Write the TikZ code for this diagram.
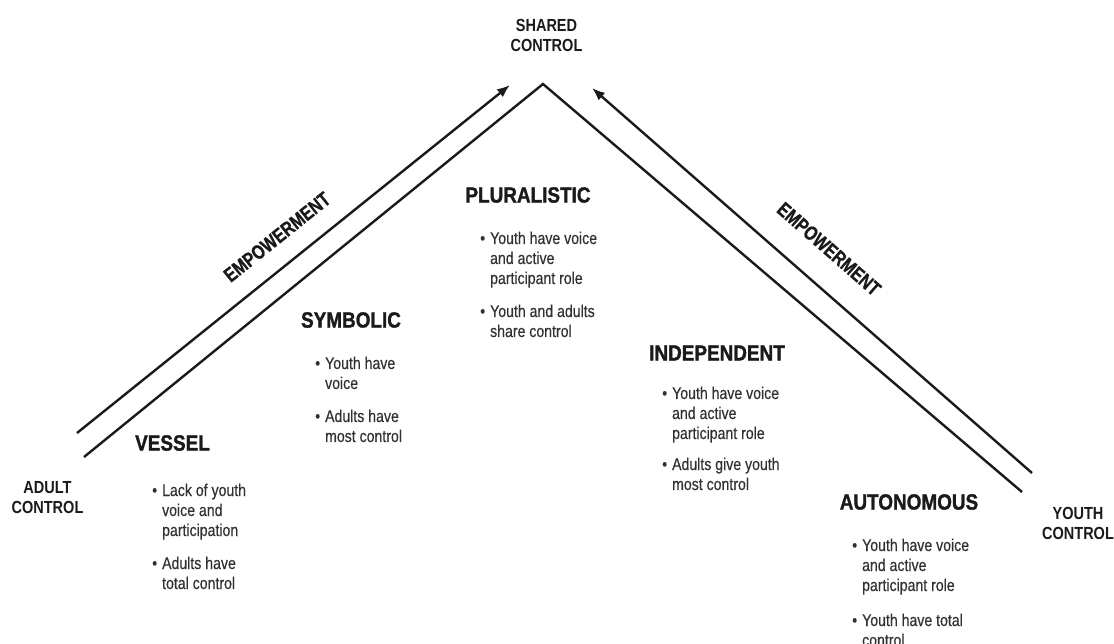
\documentclass[tikz,border=0pt]{standalone}
\usepackage{fontspec}
\setmainfont{Liberation Sans}[FakeStretch=0.83]
\newfontfamily\titlefont{Liberation Sans}[FakeStretch=0.86, BoldFeatures={FakeBold=1.4}]
\newfontfamily\empfont{Liberation Sans}[FakeStretch=0.80, BoldFeatures={FakeBold=0.8}]
\newfontfamily\itemfont{Liberation Sans}[FakeStretch=0.83, FakeBold=0.35]
\usetikzlibrary{arrows.meta}
\definecolor{ink}{HTML}{1A1A1A}
\begin{document}
\begin{tikzpicture}[x=1pt,y=-1pt,
  ln/.style={line width=2.4pt, draw=ink},
  arr/.style={ln, -{Latex[length=13pt,width=10pt]}},
  title/.style={inner sep=0pt, text=ink, font=\titlefont\bfseries\fontsize{22}{24}\selectfont},
  items/.style={anchor=base west, inner sep=0pt, text=ink!90, font=\itemfont\fontsize{17}{20}\selectfont},
  lbl/.style={inner sep=0pt, align=center, text=ink, font=\bfseries\fontsize{17.5}{20}\selectfont},
  emp/.style={inner sep=0pt, text=ink, font=\empfont\bfseries\fontsize{20}{20}\selectfont}]
\useasboundingbox (0,0) rectangle (1114,644);

% line end points
\coordinate (lo-s) at (77,433);
\coordinate (lo-e) at (510,85);
\coordinate (ro-s) at (1032,473);
\coordinate (ro-e) at (592,88);
\coordinate (li-s) at (84,457);
\coordinate (apex) at (543,84);
\coordinate (ri-e) at (1022,492);

\draw[arr] (lo-s) -- (lo-e);
\draw[arr] (ro-s) -- (ro-e);
\draw[ln, line join=miter] (li-s) -- (apex) -- (ri-e);

% corner labels
\node[lbl] (shared) at (546.5,35) {SHARED\\CONTROL};
\node[lbl] (adult) at (47.5,498) {ADULT\\CONTROL};
\node[lbl] (youth) at (1078,523) {YOUTH\\CONTROL};

% empowerment
\node[emp, rotate=38.8] (empl) at (277,237) {EMPOWERMENT};
\node[emp, rotate=-41.2] (empr) at (829,249) {EMPOWERMENT};

% titles
\node[title] (vessel) at (172.5,443) {VESSEL};
\node[title] (symbolic) at (351,320) {SYMBOLIC};
\node[title] (pluralistic) at (528,195) {PLURALISTIC};
\node[title] (independent) at (717,353) {INDEPENDENT};
\node[title] (autonomous) at (909,502) {AUTONOMOUS};

% bullet lists
\node[items] (vessel-b) at (152,496) {\begin{tabular}[t]{@{}l@{\hspace{5pt}}l@{}}
\textbullet & Lack of youth\\
 & voice and\\
 & participation\\[13pt]
\textbullet & Adults have\\
 & total control
\end{tabular}};

\node[items] (symbolic-b) at (315,369) {\begin{tabular}[t]{@{}l@{\hspace{5pt}}l@{}}
\textbullet & Youth have\\
 & voice\\[13pt]
\textbullet & Adults have\\
 & most control
\end{tabular}};

\node[items] (pluralistic-b) at (480,244) {\begin{tabular}[t]{@{}l@{\hspace{5pt}}l@{}}
\textbullet & Youth have voice\\
 & and active\\
 & participant role\\[13pt]
\textbullet & Youth and adults\\
 & share control
\end{tabular}};

\node[items] (independent-b) at (662,399) {\begin{tabular}[t]{@{}l@{\hspace{5pt}}l@{}}
\textbullet & Youth have voice\\
 & and active\\
 & participant role\\[11pt]
\textbullet & Adults give youth\\
 & most control
\end{tabular}};

\node[items] (autonomous-b) at (852,551) {\begin{tabular}[t]{@{}l@{\hspace{5pt}}l@{}}
\textbullet & Youth have voice\\
 & and active\\
 & participant role\\[15pt]
\textbullet & Youth have total\\
 & control
\end{tabular}};
\end{tikzpicture}
\end{document}
